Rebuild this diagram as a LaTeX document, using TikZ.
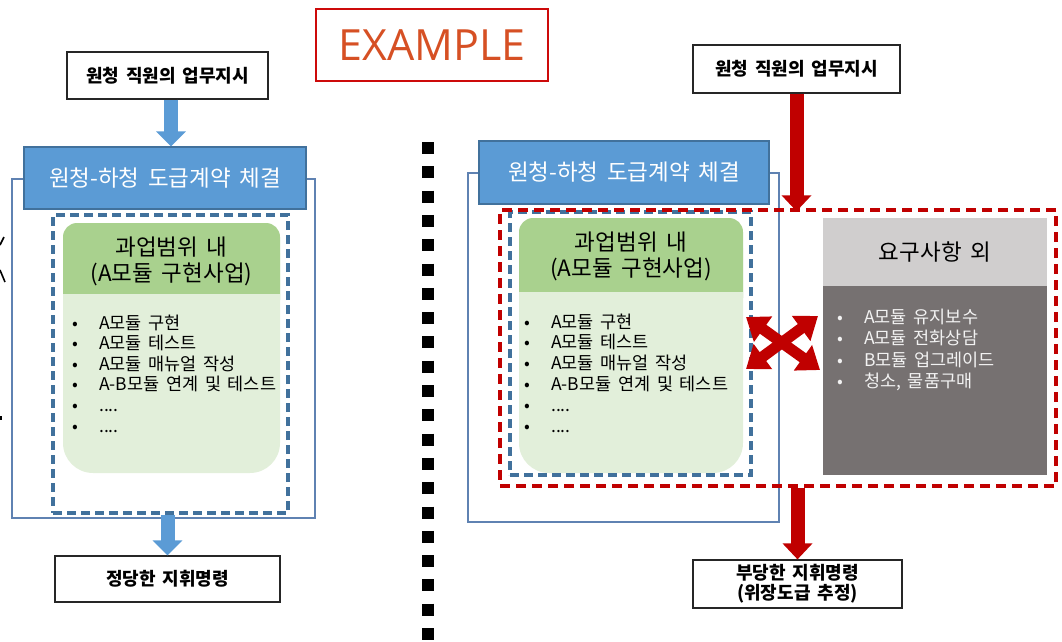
\documentclass[tikz,border=0pt]{standalone}
\usepackage{fontspec}
\setmainfont{Noto Sans CJK KR}
\newfontfamily\exfont{Open Sans}
\usetikzlibrary{arrows.meta}
\definecolor{bluefill}{RGB}{91,155,213}
\definecolor{blueedge}{RGB}{65,113,156}
\definecolor{thinblue}{RGB}{95,130,178}
\definecolor{dred}{RGB}{192,0,0}
\definecolor{ghead}{RGB}{169,209,142}
\definecolor{gbody}{RGB}{226,239,218}
\definecolor{grayhead}{RGB}{208,206,206}
\definecolor{graybody}{RGB}{118,113,113}
\definecolor{exred}{RGB}{214,80,36}
\definecolor{exbox}{RGB}{205,10,10}
\newcommand\rnode[7]{\node[#1,minimum width={#5-#3},minimum height={#6-#4}] (#2) at ({(#3+#5)/2},{(#4+#6)/2}) {#7};}
\newcommand\fourdots{....}
\newcommand\wsp{\spaceskip=0.38em plus 0.05em\relax}
\tikzset{
  termbox/.style={draw=black!85, line width=1.2pt, fill=white, inner sep=0pt, align=center, font=\fontsize{18}{20}\selectfont\bfseries\wsp},
  bluebox/.style={draw=blueedge, line width=1.2pt, fill=bluefill, text=white, inner sep=0pt, font=\fontsize{22.5}{26}\selectfont\wsp},
  outerbox/.style={draw=thinblue, line width=1.2pt, inner sep=0pt},
  bdash/.style={draw=blueedge, line width=3.4pt, dash pattern=on 9pt off 5pt, inner sep=0pt},
  rdash/.style={draw=dred, line width=3.4pt, dash pattern=on 10pt off 6pt, inner sep=0pt},
  bluearrow/.style={line width=14pt, draw=bluefill, -{Triangle[width=29pt,length=15pt]}},
  redarrow/.style={line width=14pt, draw=dred, -{Triangle[width=29pt,length=16pt]}},
  crossarrow/.style={line width=11pt, draw=dred, {Triangle[width=30pt,length=21pt]}-{Triangle[width=30pt,length=21pt]}},
  headtext/.style={inner sep=0pt, align=center, font=\fontsize{22.5}{25.5}\selectfont\wsp},
  itemtext/.style={inner sep=0pt, anchor=base west, font=\fontsize{17.5}{20}\selectfont\wsp},
  bulletmark/.style={inner sep=0pt, anchor=base, font=\fontsize{17}{20}\selectfont},
}
\begin{document}
\begin{tikzpicture}[x=1pt,y=-1pt]
\useasboundingbox (0,0) rectangle (1062,642);
% EXAMPLE
\rnode{draw=exbox,line width=1.8pt,inner sep=0pt,text=exred,font=\exfont\fontsize{43}{48}\selectfont}{ex}{316}{9}{548}{81}{EXAMPLE}
% separator
\draw[line width=12pt, dash pattern=on 12pt off 12.3pt] (428,142) -- (428,642);
% fragments at left edge
\draw[line width=1.6pt] (0,245) -- (4,237);
\draw[line width=1.6pt] (0,270) -- (5,282);
\fill (0,416) rectangle (2,420);

% ================= LEFT =================
\rnode{outerbox}{Louter}{12}{179}{315}{518}{}
\rnode{bluebox}{Lcon}{24}{147}{306}{209}{원청-하청 도급계약 체결}
\rnode{termbox}{Ltop}{67}{52}{268}{99}{원청 직원의 업무지시}
\rnode{termbox}{Lbot}{55}{556}{280}{602}{정당한 지휘명령}
% green box
\fill[gbody, rounded corners=30pt] (63,223) rectangle (280,473);
\fill[ghead, rounded corners=14pt] (63,223) rectangle (280,314);
\fill[gbody] (63,294) rectangle (280,320);
\node[headtext] (Lhead) at (171.5,261.5) {과업범위 내\\(A모듈 구현사업)};
\foreach \t [count=\i] in {A모듈 구현, A모듈 테스트, A모듈 매뉴얼 작성, A-B모듈 연계 및 테스트, \fourdots, \fourdots} {
  \node[itemtext] (Li\i) at (99,{329+20.6*(\i-1)}) {\t};
  \node[bulletmark] (Lm\i) at (75,{329+20.6*(\i-1)}) {•};
}
\rnode{bdash}{Ldash}{53}{215}{288}{513}{}
\draw[bluearrow] ([xshift=3.5pt]Ltop.south) -- ([xshift=6pt]Lcon.north);
\draw[bluearrow] (Lbot.north |- Ldash.south) -- (Lbot.north);

% ================= RIGHT =================
\rnode{outerbox}{Router}{468}{173}{779}{522}{}
\rnode{bluebox}{Rcon}{479}{141}{769}{204}{원청-하청 도급계약 체결}
\rnode{termbox}{Rtop}{693}{45}{900}{93}{원청 직원의 업무지시}
\rnode{termbox}{Rbot}{693}{560}{902}{608}{부당한 지휘명령\\(위장도급 추정)}
% green box
\fill[gbody, rounded corners=30pt] (519,218) rectangle (743,473);
\fill[ghead, rounded corners=14pt] (519,218) rectangle (743,312);
\fill[gbody] (519,292) rectangle (743,318);
\node[headtext] (Rhead) at (631,256.5) {과업범위 내\\(A모듈 구현사업)};
\foreach \t [count=\i] in {A모듈 구현, A모듈 테스트, A모듈 매뉴얼 작성, A-B모듈 연계 및 테스트, \fourdots, \fourdots} {
  \node[itemtext] (Ri\i) at (551,{328+20.8*(\i-1)}) {\t};
  \node[bulletmark] (Rm\i) at (527,{328+20.8*(\i-1)}) {•};
}
% gray box
\fill[graybody] (823,218) rectangle (1047,475);
\rnode{fill=grayhead,inner sep=0pt,font=\fontsize{22.5}{26}\selectfont\wsp}{Ghead}{823}{218}{1047}{286}{요구사항 외}
\foreach \t [count=\i] in {A모듈 유지보수, A모듈 전화상담, B모듈 업그레이드, {청소, 물품구매}} {
  \node[itemtext, text=white!95!black] (Gi\i) at (864,{323+21.6*(\i-1)}) {\t};
  \node[bulletmark, text=white!95!black] (Gm\i) at (840,{323+21.6*(\i-1)}) {•};
}
\rnode{bdash}{Rdash}{510}{212}{751}{475}{}
\rnode{rdash}{Rred}{500}{210}{1056}{486}{}
\draw[redarrow] (Rtop.south) -- ([yshift=-3pt]Rred.north -| Rtop.south);
\draw[redarrow] (Rbot.north |- Rred.south) -- (Rbot.north);
% cross arrows
\coordinate (xa) at (746,369);
\coordinate (xb) at (818,316);
\coordinate (xc) at (746,317);
\coordinate (xd) at (820,370);
\draw[crossarrow] (xa) -- (xb);
\draw[crossarrow] (xc) -- (xd);
\end{tikzpicture}
\end{document}
